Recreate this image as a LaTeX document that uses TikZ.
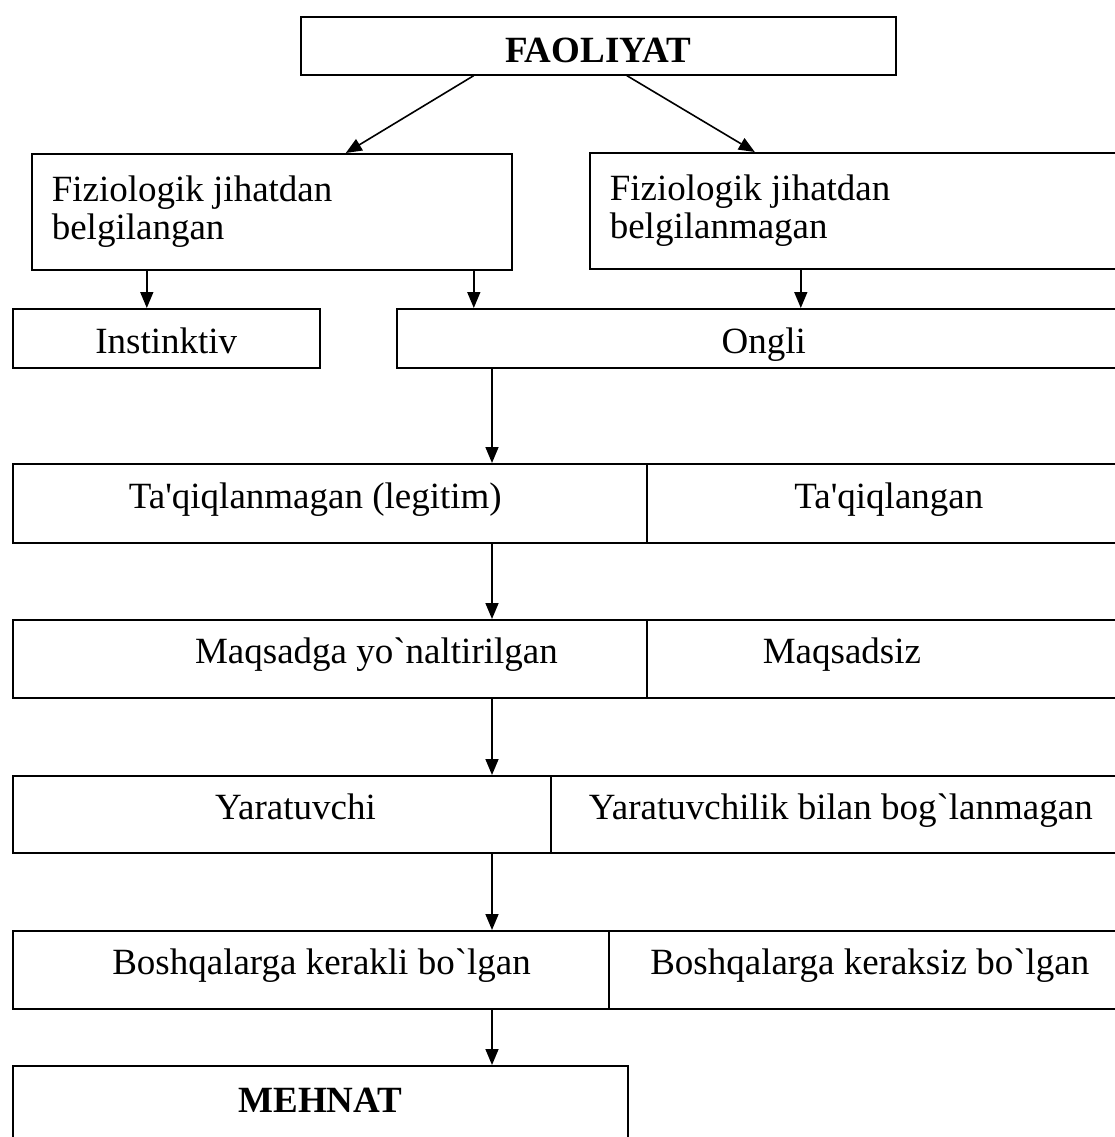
\documentclass[tikz,border=0pt]{standalone}
\usepackage{fontspec}
\setmainfont{Liberation Serif}
\usetikzlibrary{arrows.meta, positioning}

\begin{document}
\begin{tikzpicture}[x=1pt, y=-1pt,
  box/.style={draw, line width=1.6pt, rectangle, anchor=north west, inner sep=0pt, font=\fontsize{37}{38}\selectfont},
  cell/.style={box, text height=18pt, text depth=8pt},
  high/.style={box, text height=30pt, text depth=0pt},
  head/.style={font=\fontsize{37}{38}\selectfont\bfseries},
  arr/.style={-{Triangle[length=16pt, width=13pt]}, line width=1.6pt}]
\useasboundingbox (0,0) rectangle (1115,1137);
\clip (0,0) rectangle (1115,1137);

% top
\node[high, head, text height=33pt, minimum width=595pt, minimum height=58pt] (fao) at (300,16) {FAOLIYAT};
\node[box, minimum width=480pt, minimum height=116pt, inner sep=20pt, text width=440pt, align=flush left] (fj1) at (31,153) {Fiziologik jihatdan\\belgilangan};
\node[box, minimum width=541pt, minimum height=116pt, inner sep=20pt, text width=501pt, align=flush left] (fj2) at (589,152) {Fiziologik jihatdan\\belgilanmagan};
\node[high, minimum width=307pt, minimum height=59pt] (inst) at (12,308) {Instinktiv};
\node[high, minimum width=734pt, minimum height=59pt] (ongli) at (396,308) {Ongli};

% rows
\node[cell, minimum width=634pt, minimum height=79pt, inner xsep=116pt, text width=402pt, align=flush left] (taqL) at (12,463) {Ta\textquotesingle qiqlanmagan (legitim)};
\node[cell, minimum width=484pt, minimum height=79pt] (taqR) at (646,463) {Ta\textquotesingle qiqlangan};
\node[cell, minimum width=634pt, minimum height=78pt, inner xsep=89pt, text width=456pt, align=flush right] (maqL) at (12,619) {Maqsadga yo\textasciigrave naltirilgan};
\node[cell, minimum width=484pt, minimum height=78pt, inner xsep=116pt, text width=252pt, align=flush left] (maqR) at (646,619) {Maqsadsiz};
\node[cell, minimum width=538pt, minimum height=77pt, inner xsep=175pt, text width=188pt, align=flush right] (yarL) at (12,775) {Yaratuvchi};
\node[cell, minimum width=580pt, minimum height=77pt] (yarR) at (550,775) {Yaratuvchilik bilan bog\textasciigrave lanmagan};
\node[cell, minimum width=596pt, minimum height=78pt, inner xsep=78pt, text width=440pt, align=flush right] (boshL) at (12,930) {Boshqalarga kerakli bo\textasciigrave lgan};
\node[cell, minimum width=522pt, minimum height=78pt] (boshR) at (608,930) {Boshqalarga keraksiz bo\textasciigrave lgan};
\node[box, head, text height=25pt, text depth=8pt, minimum width=615pt, minimum height=76pt] (mehnat) at (12,1065) {MEHNAT};

% arrows
\draw[arr] ([xshift=-124.5pt]fao.south) -- ([xshift=74pt]fj1.north);
\draw[arr] ([xshift=28.5pt]fao.south) -- ([xshift=-105.5pt]fj2.north);
\draw[arr] ([xshift=-125pt]fj1.south) -- ([xshift=-19.5pt]inst.north);
\draw[arr] ([xshift=202pt]fj1.south) -- ([xshift=-290pt]ongli.north);
\draw[arr] ([xshift=-59.5pt]fj2.south) -- ([xshift=37pt]ongli.north);

\coordinate (spine) at (492,0);
\foreach \a/\b in {ongli/taqL, taqL/maqL, maqL/yarL, yarL/boshL, boshL/mehnat}
  \draw[arr] (\a.south -| spine) -- (\b.north -| spine);
\end{tikzpicture}
\end{document}
